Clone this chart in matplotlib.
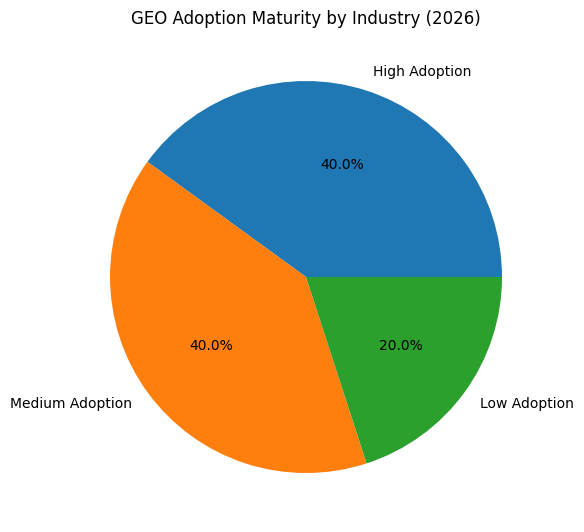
import matplotlib.pyplot as plt

labels = ["High Adoption", "Medium Adoption", "Low Adoption"]
shares = [40, 40, 20]

fig = plt.figure(figsize=(5.84, 5.32), dpi=100)
ax = fig.add_axes([0.1045, 0.0188, 0.839, 0.921])
ax.pie(shares, labels=labels, autopct='%1.1f%%')
ax.set_title("GEO Adoption Maturity by Industry (2026)")
plt.savefig("out.png", dpi=100)
